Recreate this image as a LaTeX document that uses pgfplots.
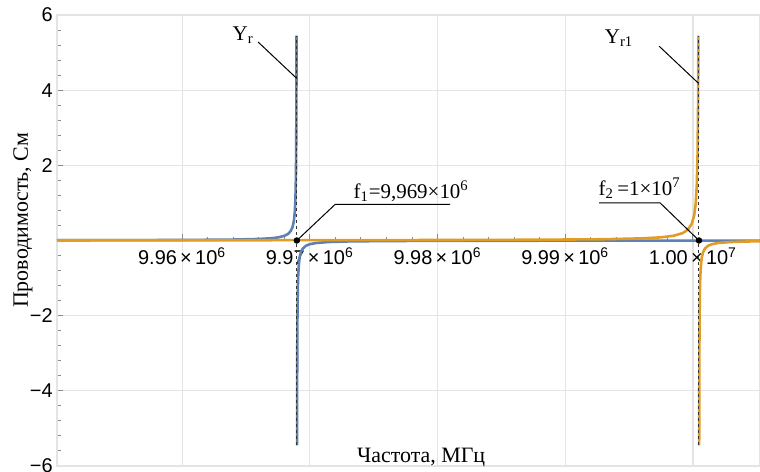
\documentclass[border=0pt]{standalone}
\usepackage{pgfplots}
\pgfplotsset{compat=1.18}
\usepackage{fontspec}
\setmainfont{Liberation Serif}
\newfontfamily\tickfont{Liberation Sans}

\definecolor{mblue}{HTML}{5E81B5}
\definecolor{morange}{HTML}{E19C24}
\definecolor{gridc}{HTML}{E4E4E4}
\definecolor{axc}{HTML}{8A8A8A}

\begin{document}
\begin{tikzpicture}
% x is frequency offset from 9.95 MHz, in kHz
\begin{axis}[
  name=ax,
  scale only axis,
  width=351.5bp, height=225.5bp,
  xmin=0.2, xmax=55.25,
  ymin=-6, ymax=6,
  axis x line=middle,
  axis y line=left,
  axis line style={-, draw=axc, line width=0.5bp},
  xtick={10,20,30,40,50},
  xticklabels={9.96\,×\,10\textsuperscript{6},9.97\,×\,10\textsuperscript{6},9.98\,×\,10\textsuperscript{6},9.99\,×\,10\textsuperscript{6},1.00\,×\,10\textsuperscript{7}},
  ytick={-6,-4,-2,0,2,4,6},
  yticklabels={−6,−4,−2,{},2,4,6},
  minor x tick num=4,
  minor y tick num=4,
  major tick length=3bp,
  minor tick length=1.75bp,
  every tick/.style={draw=axc, line width=0.5bp},
  tick align=inside,
  grid=major,
  major grid style={draw=gridc, line width=0.6bp},
  tick label style={font=\tickfont\fontsize{10}{12}\selectfont},
  xticklabel style={anchor=north, inner sep=0pt, yshift=-3.5bp},
  yticklabel style={anchor=east, inner sep=0pt, xshift=-2bp},
  clip=false,
]
\draw[gridc, line width=0.6bp] (rel axis cs:0,0) rectangle (rel axis cs:1,1);

% Y_r, left branch
\addplot[mblue, line width=1.3bp] coordinates {
  (0.2,0.0064) (5,0.0086) (10,0.0134) (14,0.0241) (16,0.0403) (17,0.0606)
  (17.5,0.0811) (18,0.122) (18.3,0.176) (18.5,0.25) (18.65,0.364) (18.75,0.522)
  (18.82,0.75) (18.87,1.091) (18.91,1.714) (18.935,2.667) (18.95,4.0) (18.958,5.45)
};
% Y_r, right branch
\addplot[mblue, line width=1.3bp] coordinates {
  (18.998,-5.45) (19.005,-4.0) (19.015,-2.857) (19.03,-2.0) (19.05,-1.429)
  (19.08,-1.0) (19.13,-0.667) (19.2,-0.455) (19.3,-0.3125) (19.45,-0.213)
  (19.7,-0.139) (20,-0.098) (20.5,-0.066) (21.5,-0.04) (23,-0.025) (26,-0.014)
  (32,-0.0077) (42,-0.0043) (55.25,-0.0028)
};
% Y_r1, left branch
\addplot[morange, line width=1.3bp] coordinates {
  (0.2,0.005) (10,0.0062) (20,0.0082) (30,0.0122) (38,0.02) (43,0.0335)
  (46,0.056) (47.5,0.084) (48.5,0.127) (49.2,0.197) (49.6,0.287) (49.9,0.439)
  (50.1,0.676) (50.22,1.0) (50.3,1.47) (50.36,2.27) (50.4,3.57) (50.424,5.45)
};
% Y_r1, right branch
\addplot[morange, line width=1.3bp] coordinates {
  (50.488,-5.45) (50.495,-4.0) (50.505,-2.857) (50.52,-2.0) (50.54,-1.429)
  (50.57,-1.0) (50.62,-0.667) (50.69,-0.455) (50.79,-0.3125) (50.94,-0.213)
  (51.19,-0.139) (51.5,-0.097) (52,-0.065) (53,-0.04) (54.2,-0.027) (55.25,-0.021)
};
% asymptotes
\addplot[gray!40!black, line width=0.5bp, dash pattern=on 1.5bp off 1.5bp] coordinates {(18.98,-5.45) (18.98,5.45)};
\addplot[gray!40!black, line width=0.5bp, dash pattern=on 1.5bp off 1.5bp] coordinates {(50.47,-5.45) (50.47,5.45)};
% resonance points
\addplot[only marks, mark=*, mark size=1.4bp, black] coordinates {(18.98,0) (50.47,0)};

% callouts
\draw[black, line width=0.5bp] (axis cs:15.95,5.28) -- (axis cs:18.95,4.32);
\node[font=\fontsize{10.5}{12}\selectfont] at (axis cs:14.78,5.47) {Y\textsubscript{r}};
\draw[black, line width=0.5bp] (axis cs:47.35,5.17) -- (axis cs:50.41,4.19);
\node[font=\fontsize{10.5}{12}\selectfont] at (axis cs:44.22,5.39) {Y\textsubscript{r1}};
\draw[black, line width=0.5bp] (axis cs:18.98,0) -- (axis cs:21.98,0.96) -- (axis cs:30.99,0.96);
\node[font=\fontsize{10.5}{12}\selectfont, anchor=base west, inner sep=0pt] at (axis cs:23.39,1.12) {f\textsubscript{1}=9,969×10\textsuperscript{6}};
\draw[black, line width=0.5bp] (axis cs:42.65,1.0) -- (axis cs:47.43,1.0) -- (axis cs:50.47,0);
\node[font=\fontsize{10.5}{12}\selectfont, anchor=base west, inner sep=0pt] at (axis cs:42.58,1.2) {f\textsubscript{2}\,=1×10\textsuperscript{7}};

% axis labels
\node[font=\fontsize{11}{13}\selectfont, anchor=base] at (rel axis cs:0.518,0.0067) {Частота, МГц};
\node[font=\fontsize{11}{13}\selectfont, rotate=90] at (rel axis cs:-0.0484,0.545) {Проводимость, См};
\end{axis}
\pgfresetboundingbox
\path[use as bounding box] ([xshift=-28.5bp,yshift=-3bp]ax.south west) rectangle ([yshift=7.5bp]ax.north east);
\end{tikzpicture}
\end{document}
